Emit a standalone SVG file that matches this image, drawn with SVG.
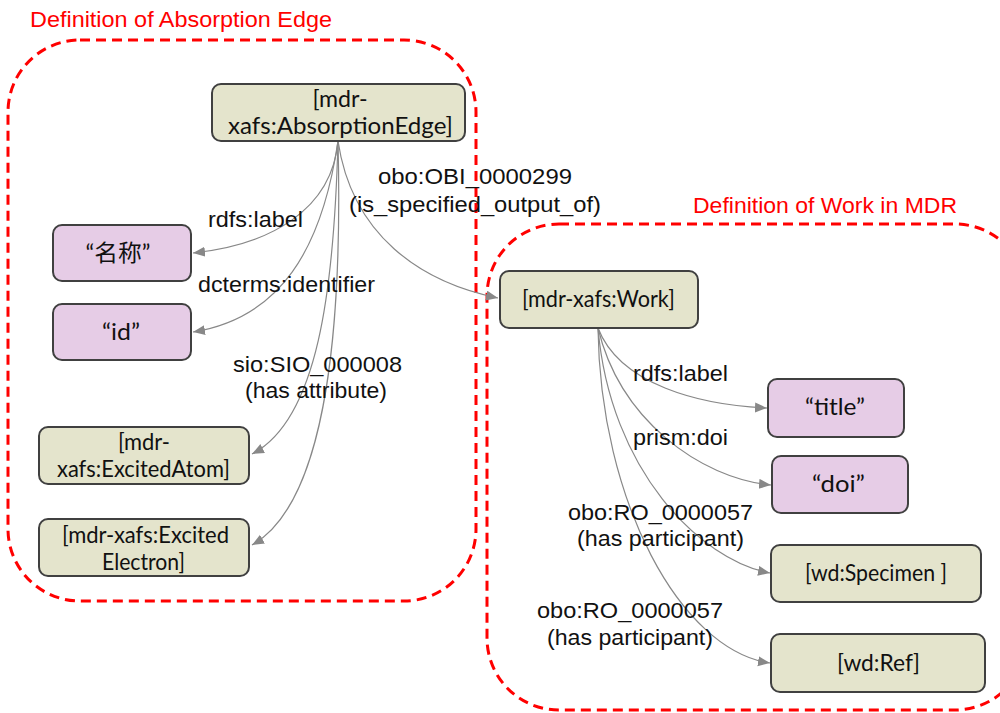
<svg xmlns="http://www.w3.org/2000/svg" width="1000" height="713" viewBox="0 0 1000 713">
  <defs>
    <marker id="arrow" markerUnits="userSpaceOnUse" markerWidth="13" markerHeight="11" refX="12" refY="5" orient="auto">
      <path d="M0,0 L12,5 L0,10 z" fill="#888888"/>
    </marker>
    <style>
      .region { fill: none; stroke: #ff0000; stroke-width: 3; stroke-dasharray: 10 6; }
      .region-title { font-family: "Liberation Sans", Arial, sans-serif; font-size: 22px; fill: #ff0000; }
      .cls { fill: #e4e4cc; stroke: #404040; stroke-width: 2; }
      .lit { fill: #e6cce6; stroke: #404040; stroke-width: 2; }
      .node-text { font-family: Lato, "Noto Sans CJK SC", sans-serif; font-size: 23px; fill: #111111; text-anchor: middle; }
      .edge { fill: none; stroke: #888888; stroke-width: 1.2; marker-end: url(#arrow); }
      .edge-label { font-family: "Liberation Sans", Arial, sans-serif; font-size: 22px; fill: #111111; text-anchor: middle; }
    </style>
  </defs>

  <rect width="1000" height="713" fill="#ffffff"/>

  <!-- grouping regions -->
  <g id="regions">
    <rect class="region" x="8" y="40" width="468" height="561" rx="72"/>
    <text class="region-title" x="30" y="27" textLength="302" lengthAdjust="spacingAndGlyphs">Definition of Absorption Edge</text>
    <rect class="region" x="487" y="224" width="540" height="486" rx="72"/>
    <text class="region-title" x="693" y="213" textLength="264" lengthAdjust="spacingAndGlyphs">Definition of Work in MDR</text>
  </g>

  <!-- connectors -->
  <g id="connectors">
    <path class="edge" d="M338,141 C332,210 270,245 193,253"/>
    <path class="edge" d="M338,141 C322,250 280,318 193,332"/>
    <path class="edge" d="M338,141 C334,290 318,420 252,454"/>
    <path class="edge" d="M338,141 C342,300 332,500 252,545"/>
    <path class="edge" d="M338,141 C352,235 420,282 498,298"/>
    <path class="edge" d="M598,328 C620,385 700,405 767,408"/>
    <path class="edge" d="M598,328 C620,420 700,478 771,485"/>
    <path class="edge" d="M598,328 C610,470 700,560 770,573"/>
    <path class="edge" d="M598,328 C600,500 680,650 770,663"/>
  </g>

  <!-- connector labels -->
  <g id="connector-labels">
    <text class="edge-label" x="475" y="184" textLength="194" lengthAdjust="spacingAndGlyphs">obo:OBI_0000299</text>
    <text class="edge-label" x="475" y="212" textLength="252" lengthAdjust="spacingAndGlyphs">(is_specified_output_of)</text>
    <text class="edge-label" x="255.5" y="227" textLength="95" lengthAdjust="spacingAndGlyphs">rdfs:label</text>
    <text class="edge-label" x="286.5" y="292" textLength="177" lengthAdjust="spacingAndGlyphs">dcterms:identifier</text>
    <text class="edge-label" x="317.5" y="372" textLength="169" lengthAdjust="spacingAndGlyphs">sio:SIO_000008</text>
    <text class="edge-label" x="316" y="398" textLength="142" lengthAdjust="spacingAndGlyphs">(has attribute)</text>
    <text class="edge-label" x="680.5" y="381" textLength="95" lengthAdjust="spacingAndGlyphs">rdfs:label</text>
    <text class="edge-label" x="680.5" y="445" textLength="95" lengthAdjust="spacingAndGlyphs">prism:doi</text>
    <text class="edge-label" x="660.5" y="520" textLength="185" lengthAdjust="spacingAndGlyphs">obo:RO_0000057</text>
    <text class="edge-label" x="660.5" y="546" textLength="167" lengthAdjust="spacingAndGlyphs">(has participant)</text>
    <text class="edge-label" x="630" y="618" textLength="186" lengthAdjust="spacingAndGlyphs">obo:RO_0000057</text>
    <text class="edge-label" x="630" y="645" textLength="166" lengthAdjust="spacingAndGlyphs">(has participant)</text>
  </g>

  <!-- nodes -->
  <g id="absorption-edge">
    <rect class="cls" x="212" y="84" width="253" height="57" rx="9"/>
    <text class="node-text" x="340" y="107" textLength="55" lengthAdjust="spacingAndGlyphs">[mdr-</text>
    <text class="node-text" x="340.5" y="134" textLength="225" lengthAdjust="spacingAndGlyphs">xafs:AbsorptionEdge]</text>
  </g>
  <g id="name-literal">
    <rect class="lit" x="53" y="225" width="138" height="56" rx="9"/>
    <text class="node-text" x="118" y="261" textLength="65" lengthAdjust="spacingAndGlyphs">“名称”</text>
  </g>
  <g id="id-literal">
    <rect class="lit" x="53" y="304" width="138" height="56" rx="9"/>
    <text class="node-text" x="121" y="340" textLength="38" lengthAdjust="spacingAndGlyphs">“id”</text>
  </g>
  <g id="excited-atom">
    <rect class="cls" x="39" y="427" width="210" height="57" rx="9"/>
    <text class="node-text" x="144" y="450" textLength="52" lengthAdjust="spacingAndGlyphs">[mdr-</text>
    <text class="node-text" x="143.5" y="477" textLength="173" lengthAdjust="spacingAndGlyphs">xafs:ExcitedAtom]</text>
  </g>
  <g id="excited-electron">
    <rect class="cls" x="39" y="519" width="210" height="57" rx="9"/>
    <text class="node-text" x="145.5" y="543" textLength="167" lengthAdjust="spacingAndGlyphs">[mdr-xafs:Excited</text>
    <text class="node-text" x="143.5" y="570" textLength="83" lengthAdjust="spacingAndGlyphs">Electron]</text>
  </g>
  <g id="work">
    <rect class="cls" x="500" y="271" width="198" height="57" rx="9"/>
    <text class="node-text" x="598.5" y="307" textLength="153" lengthAdjust="spacingAndGlyphs">[mdr-xafs:Work]</text>
  </g>
  <g id="title-literal">
    <rect class="lit" x="768" y="379" width="136" height="58" rx="9"/>
    <text class="node-text" x="835" y="415" textLength="60" lengthAdjust="spacingAndGlyphs">“title”</text>
  </g>
  <g id="doi-literal">
    <rect class="lit" x="772" y="456" width="136" height="57" rx="9"/>
    <text class="node-text" x="838.5" y="492" textLength="53" lengthAdjust="spacingAndGlyphs">“doi”</text>
  </g>
  <g id="specimen">
    <rect class="cls" x="771" y="545" width="210" height="57" rx="9"/>
    <text class="node-text" x="876" y="581" textLength="142" lengthAdjust="spacingAndGlyphs">[wd:Specimen ]</text>
  </g>
  <g id="ref">
    <rect class="cls" x="771" y="634" width="214" height="58" rx="9"/>
    <text class="node-text" x="878.5" y="671" textLength="83" lengthAdjust="spacingAndGlyphs">[wd:Ref]</text>
  </g>
</svg>
